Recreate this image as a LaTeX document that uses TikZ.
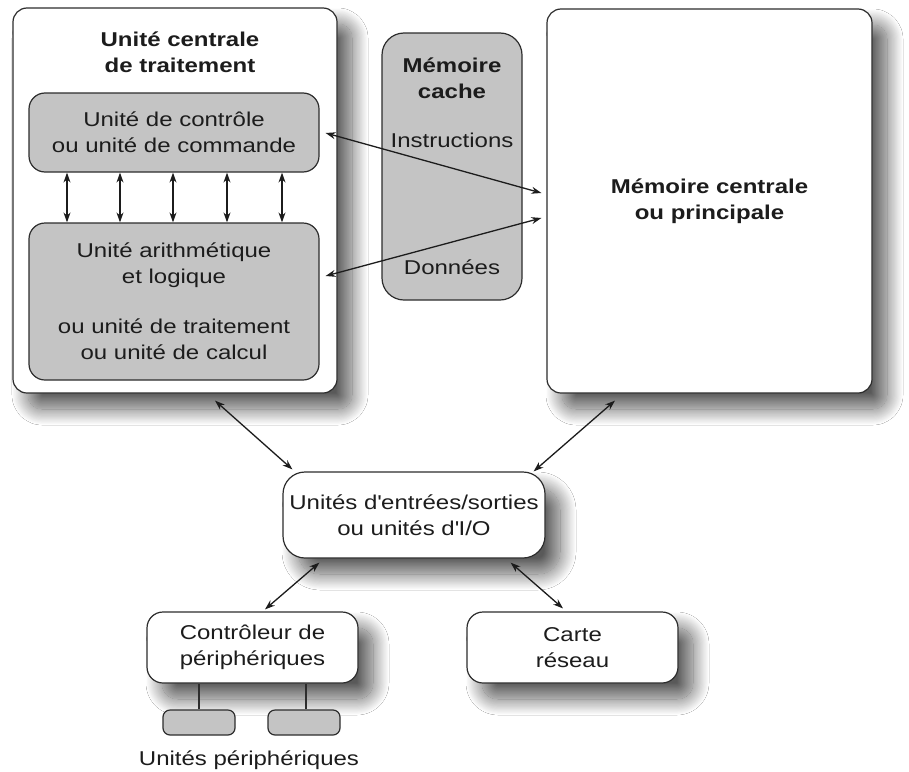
\documentclass[tikz,border=0pt]{standalone}
\usepackage{fontspec}
\setmainfont{Liberation Sans}[FakeStretch=1.2]
\usetikzlibrary{arrows.meta,shadows.blur}
\definecolor{boxgray}{RGB}{196,196,196}
\definecolor{ink}{RGB}{28,28,28}
\definecolor{edge}{RGB}{45,45,45}
\begin{document}
\begin{tikzpicture}[x=1pt,y=-1pt,
  every node/.style={font=\fontsize{20}{26}\selectfont, text=ink, align=center},
  whitebox/.style={draw=edge, line width=1.2pt, fill=white, rounded corners=14pt, inner sep=0pt},
  shadowed/.style={blur shadow={shadow xshift=15pt, shadow yshift=-16pt, shadow blur radius=16pt, shadow blur steps=30, shadow opacity=65}},
  graybox/.style={draw=edge, line width=1.2pt, fill=boxgray, rounded corners=16pt, inner sep=0pt},
  arr/.style={draw=ink, line width=1.3pt, {Stealth[length=10pt,width=7pt]}-{Stealth[length=10pt,width=7pt]}},
  boldtxt/.style={font=\fontsize{20}{26}\selectfont\bfseries}
]
\useasboundingbox[fill=white] (0,0) rectangle (909,771);

% main boxes
\node[whitebox, shadowed, minimum width=324pt, minimum height=385pt] (cpu) at (175,200.5) {};
\node[whitebox, shadowed, minimum width=325pt, minimum height=384pt, boldtxt] (mem) at (709.5,201) {Mémoire centrale\\ou principale};

\node[boldtxt] (cputitle) at (180,52.5) {Unité centrale\\de traitement};
\node[graybox, minimum width=290pt, minimum height=79pt] (ctrl) at (174,132.5) {Unité de contrôle\\ou unité de commande};
\node[graybox, minimum width=290pt, minimum height=157pt] (alu) at (174,301.5)
  {Unité arithmétique\\et logique\\[24pt]ou unité de traitement\\ou unité de calcul};

\node[graybox, rounded corners=22pt, minimum width=140pt, minimum height=267pt] (cache) at (452,166.5) {};
\node[boldtxt] (cachetitle) at (452,78.5) {Mémoire\\cache};
\node (instr) at (452,140) {Instructions};
\node (donnees) at (452,267) {Données};

% I/O and below
\node[whitebox, shadowed, rounded corners=22pt, minimum width=262pt, minimum height=86pt] (io) at (414,515)
  {Unités d\textquotesingle entrées/sorties\\ou unités d\textquotesingle I/O};
\node[whitebox, shadowed, rounded corners=16pt, minimum width=211pt, minimum height=71pt] (dev) at (252.5,647.5)
  {Contrôleur de\\périphériques};
\node[whitebox, shadowed, rounded corners=16pt, minimum width=211pt, minimum height=71pt] (carte) at (572.5,647.5)
  {Carte\\réseau};

\node[graybox, rounded corners=7pt, minimum width=72pt, minimum height=25pt] (p1) at (199,722.5) {};
\node[graybox, rounded corners=7pt, minimum width=72pt, minimum height=25pt] (p2) at (304,722.5) {};
\node (plabel) at (249,760) {Unités périphériques};

% connectors
\foreach \dx in {-107,-54,-1,53,108}
  \draw[arr] ([shift={(\dx,0)}]ctrl.south) -- ([shift={(\dx,0)}]alu.north);

\coordinate (m1) at ([shift={(-5,-8)}]mem.west);
\coordinate (m2) at ([shift={(-5,17)}]mem.west);
\draw[arr] ([shift={(6,0.5)}]ctrl.east) -- (m1);
\draw[arr] ([shift={(6,-25.5)}]alu.east) -- (m2);

\draw[arr] ([shift={(40,7)}]cpu.south) -- ([shift={(10,-2)}]io.north west);
\draw[arr] ([shift={(-94.5,7)}]mem.south) -- ([shift={(-12,0)}]io.north east);

\draw[arr] ([shift={(37,4)}]io.south west) -- ([shift={(12.5,-2)}]dev.north);
\draw[arr] ([shift={(-35,4)}]io.south east) -- ([shift={(-9.5,-3)}]carte.north);

\draw[draw=edge, line width=1.2pt] (p1.north) -- (p1.north |- dev.south);
\draw[draw=edge, line width=1.2pt] ([shift={(2,0)}]p2.north) -- ([shift={(2,0)}]p2.north |- dev.south);
\end{tikzpicture}
\end{document}
